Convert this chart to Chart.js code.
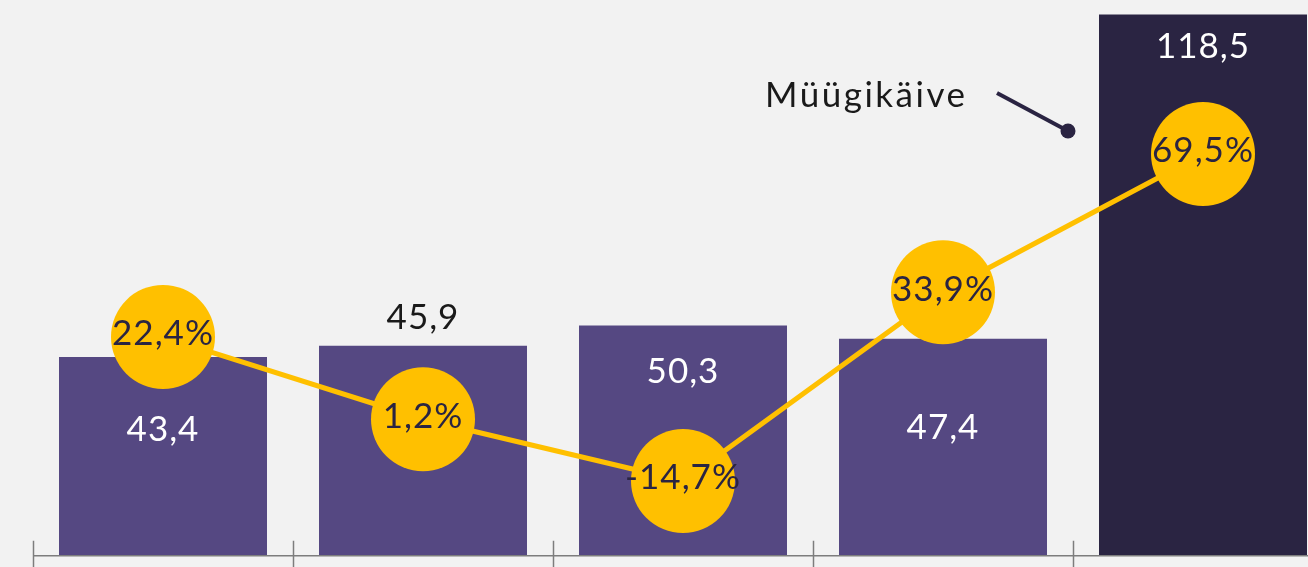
<!DOCTYPE html>
<html>
<head>
<meta charset="utf-8">
<script src="https://cdn.jsdelivr.net/npm/chart.js@4.4.1/dist/chart.umd.min.js"></script>
<style>
  html, body { margin: 0; padding: 0; background: #F2F2F2; overflow: hidden; }
  #wrap { position: absolute; left: 0; top: 0; width: 1340px; height: 567px; }
</style>
</head>
<body>
<div id="wrap"><canvas id="c"></canvas></div>
<script>
// ---- Data ----
const categories = ['1', '2', '3', '4', '5'];
const salesValues = [43.4, 45.9, 50.3, 47.4, 118.5];
const growthValues = [22.4, 1.2, -14.7, 33.9, 69.5];
const annotationText = 'Müügikäive';

const FONT = 'Lato, "Open Sans", sans-serif';
const fmt = v => v.toFixed(1).replace('.', ',');

const labelPlugin = {
  id: 'labels',
  afterDatasetsDraw(chart, args, opts) {
    const ctx = chart.ctx;
    const xs = chart.scales.x;
    const area = chart.chartArea;
    ctx.save();
    // axis line and boundary ticks
    ctx.strokeStyle = '#7d7d7d';
    ctx.lineWidth = 1.5;
    const y0 = area.bottom + 0.75;
    ctx.beginPath();
    ctx.moveTo(area.left, y0);
    ctx.lineTo(chart.width, y0);
    ctx.stroke();
    const half = (xs.getPixelForValue(1) - xs.getPixelForValue(0)) / 2;
    for (let i = 0; i <= categories.length; i++) {
      const x = Math.round(xs.getPixelForValue(i) - half) + 0.5;
      ctx.beginPath();
      ctx.moveTo(x, y0 - 15);
      ctx.lineTo(x, chart.height);
      ctx.stroke();
    }
    // bar value labels
    ctx.font = '400 35px ' + FONT;
    ctx.letterSpacing = '1px';
    ctx.textAlign = 'center';
    ctx.textBaseline = 'middle';
    const barMeta = chart.getDatasetMeta(0);
    barMeta.data.forEach((el, i) => {
      ctx.fillStyle = opts.barLabelColors[i];
      ctx.fillText(fmt(salesValues[i]), el.x, el.y + opts.barLabelOffsets[i]);
    });
    // growth labels
    const lineMeta = chart.getDatasetMeta(1);
    ctx.fillStyle = '#2a2442';
    lineMeta.data.forEach((el, i) => {
      ctx.fillText(fmt(growthValues[i]) + '%', el.x, el.y - 3);
    });
    // annotation
    ctx.fillStyle = '#1a1a1a';
    ctx.textAlign = 'left';
    ctx.letterSpacing = '2.5px';
    ctx.fillText(annotationText, 765, 96);
    ctx.strokeStyle = '#2a2442';
    ctx.lineWidth = 4;
    ctx.beginPath();
    ctx.moveTo(997, 93);
    ctx.lineTo(1068, 131);
    ctx.stroke();
    ctx.fillStyle = '#2a2442';
    ctx.beginPath();
    ctx.arc(1068, 131, 7.5, 0, Math.PI * 2);
    ctx.fill();
    ctx.restore();
  }
};

new Chart(document.getElementById('c'), {
  data: {
    labels: categories,
    datasets: [
      {
        type: 'bar',
        data: salesValues,
        backgroundColor: ['#554882', '#554882', '#554882', '#554882', '#2A2442'],
        borderWidth: 0,
        barPercentage: 0.8,
        categoryPercentage: 1,
        yAxisID: 'y',
        order: 2
      },
      {
        type: 'line',
        data: growthValues,
        borderColor: '#FFC000',
        borderWidth: 5,
        pointRadius: 52,
        pointHoverRadius: 52,
        pointBackgroundColor: '#FFC000',
        pointBorderWidth: 0,
        tension: 0,
        clip: false,
        yAxisID: 'y2',
        order: 1
      }
    ]
  },
  options: {
    responsive: true,
    maintainAspectRatio: false,
    animation: false,
    layout: { autoPadding: false, padding: { left: 33, right: 7, top: 0, bottom: 12 } },
    plugins: {
      legend: { display: false },
      tooltip: { enabled: false },
      labels: {
        barLabelOffsets: [73, -28, 46, 89, 32],
        barLabelColors: ['#ffffff', '#1a1a1a', '#ffffff', '#ffffff', '#ffffff']
      }
    },
    scales: {
      x: { display: false, offset: true },
      y: { display: false, min: 0, max: 121.7 },
      y2: { display: false, min: -33.75, max: 109.14, position: 'right' }
    }
  },
  plugins: [labelPlugin]
});
</script>
</body>
</html>
